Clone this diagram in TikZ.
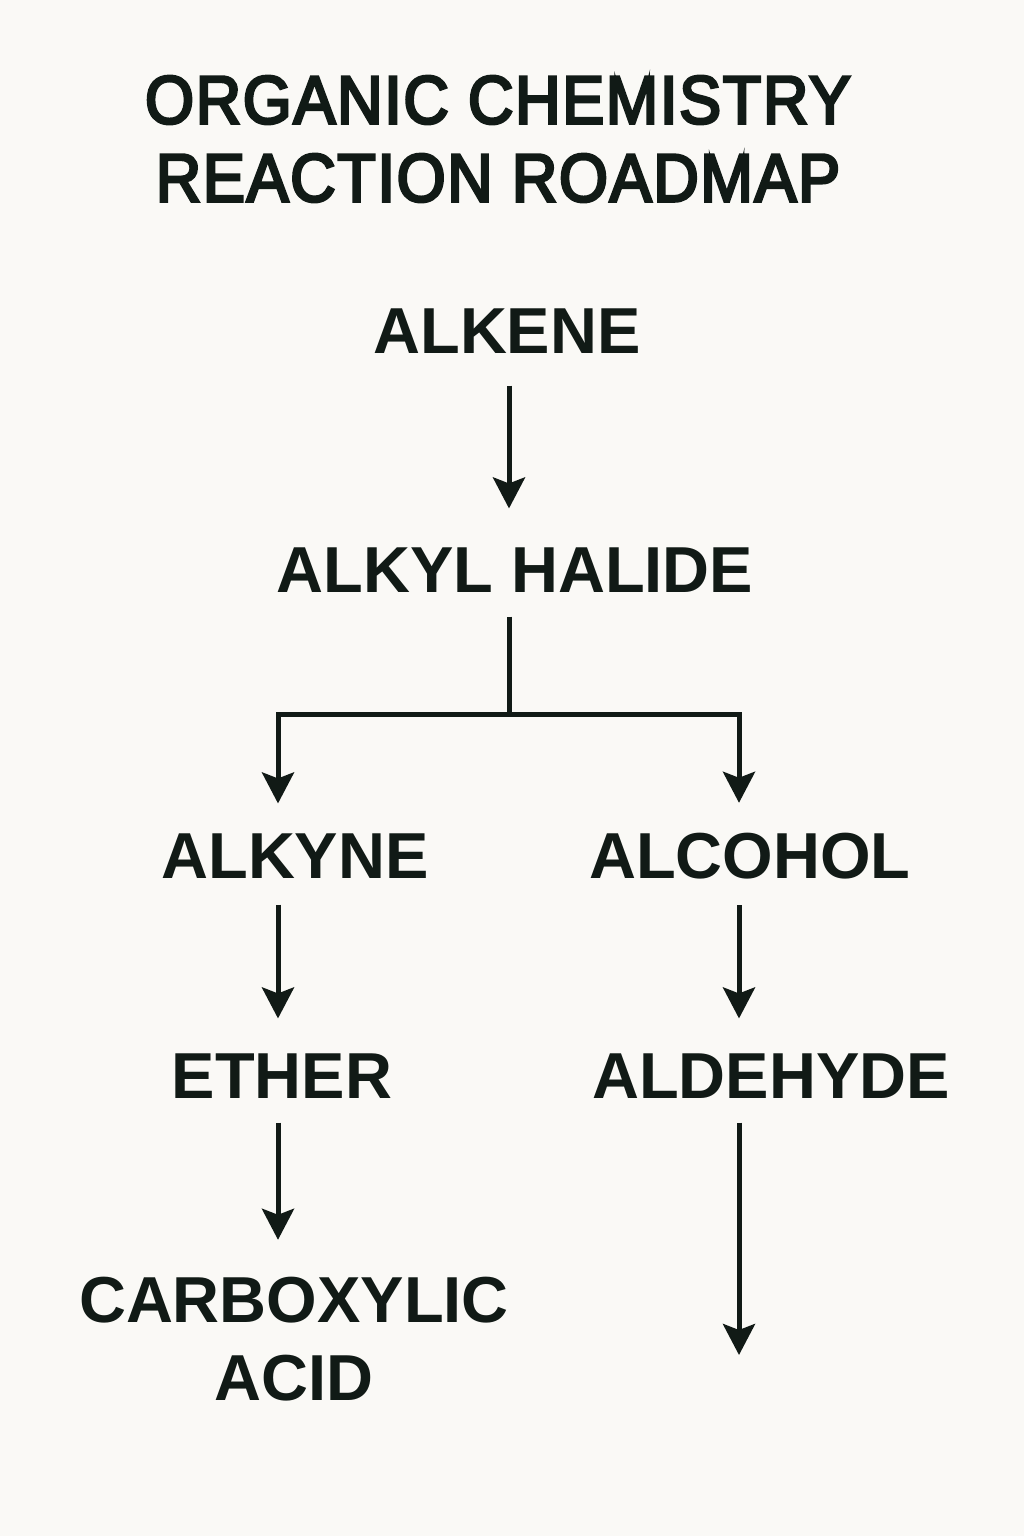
\documentclass[tikz,border=0pt]{standalone}
\usepackage{fontspec}
\setmainfont{Liberation Sans}
\newfontfamily\titlefont[FakeStretch=0.925,FakeBold=4,LetterSpace=2.5]{Liberation Sans}
\usetikzlibrary{arrows.meta}
\definecolor{bg}{HTML}{FAF9F6}
\definecolor{ink}{HTML}{111A16}
\begin{document}
\begin{tikzpicture}[x=1pt,y=-1pt,
  title/.style={font=\titlefont\fontsize{68}{78}\selectfont, text=ink, inner sep=0pt, align=center},
  chem/.style={font=\bfseries\fontsize{65}{78}\selectfont, text=ink, inner sep=0pt, align=center},
  arr/.style={draw=ink, line width=5pt, -{Stealth[length=31pt,width=32pt,inset=6pt]}},
  conn/.style={draw=ink, line width=5pt}]
\fill[bg] (0,0) rectangle (1024,1536);
\useasboundingbox (0,0) rectangle (1024,1536);
\node[title] (title) at (498,139) {ORGANIC CHEMISTRY\\REACTION ROADMAP};
\node[chem] (alkene) at (507,331) {ALKENE};
\node[chem] (halide) at (515,570) {ALKYL HALIDE};
\node[chem] (alkyne) at (295,856) {ALKYNE};
\node[chem] (alcohol) at (750,856) {ALCOHOL};
\node[chem] (ether) at (282,1076) {ETHER};
\node[chem] (aldehyde) at (771,1076) {ALDEHYDE};
\node[chem] (acid) at (294,1339) {CARBOXYLIC\\ACID};
\coordinate (cm) at (509,0);
\coordinate (cl) at (278,0);
\coordinate (cr) at (739,0);
\coordinate (junc) at (509,714);
\coordinate (end) at (739,1355);
\draw[arr, shorten <=32pt, shorten >=39pt] (alkene.south -| cm) -- (halide.north -| cm);
\draw[conn, shorten <=24pt] (halide.south -| cm) -- (junc);
\draw[arr, line join=miter, shorten >=30pt] (junc) -| (alkyne.north -| cl);
\draw[arr, line join=miter, shorten >=30pt] (junc) -| (alcohol.north -| cr);
\draw[arr, shorten <=26pt, shorten >=35pt] (alkyne.south -| cl) -- (ether.north -| cl);
\draw[arr, shorten <=26pt, shorten >=35pt] (alcohol.south -| cr) -- (aldehyde.north -| cr);
\draw[arr, shorten <=24pt, shorten >=37pt] (ether.south -| cl) -- (acid.north -| cl);
\draw[arr, shorten <=24pt] (aldehyde.south -| cr) -- (end);
\end{tikzpicture}
\end{document}
